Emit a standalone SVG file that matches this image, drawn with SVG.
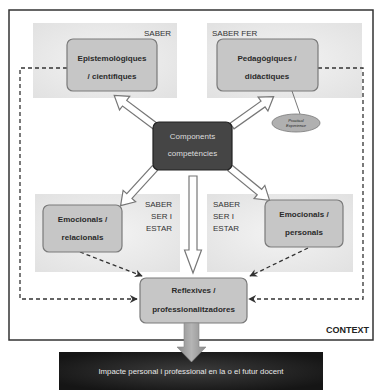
<svg xmlns="http://www.w3.org/2000/svg" width="377" height="390" viewBox="0 0 377 390">
<defs>
<style>
.panel{fill:url(#pg);}
.box{fill:#c6c6c6;stroke:#7a7a7a;stroke-width:1.2;}
.t{font-family:"Liberation Sans",Arial,sans-serif;font-size:8px;font-weight:bold;fill:#2a2a2a;text-anchor:middle;}
.lbl{font-family:"Liberation Sans",Arial,sans-serif;font-size:8px;fill:#333;}
.r{text-anchor:end;}
.blk{fill:#fff;stroke:#777;stroke-width:1.2;stroke-linejoin:miter;}
.dash{fill:none;stroke:#333;stroke-width:1.3;stroke-dasharray:4,3;}
</style>
<radialGradient id="pg" cx="0.5" cy="0.5" r="0.75">
<stop offset="0" stop-color="#f3f3f3"/><stop offset="1" stop-color="#e0e0e0"/>
</radialGradient>
<radialGradient id="dk" cx="0.5" cy="0.5" r="0.6">
<stop offset="0" stop-color="#3c3c3c"/><stop offset="1" stop-color="#151515"/>
</radialGradient>
<linearGradient id="ga" x1="0" y1="0" x2="1" y2="0">
<stop offset="0" stop-color="#8a8a8a"/><stop offset="0.5" stop-color="#b5b5b5"/><stop offset="1" stop-color="#8a8a8a"/>
</linearGradient>
<marker id="ah" viewBox="0 0 10 10" refX="9" refY="5" markerWidth="6" markerHeight="6" orient="auto"><path d="M0,0 L10,5 L0,10 L3,5 Z" fill="#333"/></marker>
<path id="barr" d="M0,-3.5 L38,-3.5 L38,-8.5 L51,0 L38,8.5 L38,3.5 L0,3.5 Z"/>
</defs>
<rect width="377" height="390" fill="#fff"/>
<rect x="9" y="10" width="364" height="330" fill="#fff" stroke="#333" stroke-width="1.5"/>

<g id="panels">
<rect class="panel" x="33" y="23" width="144" height="75"/>
<rect class="panel" x="207" y="23" width="155" height="75"/>
<rect class="panel" x="35" y="194" width="145" height="78"/>
<rect class="panel" x="207" y="194" width="146" height="78"/>
</g>

<g id="connectors">
<path class="dash" d="M67,68 H20 V299 H137" marker-end="url(#ah)"/>
<path class="dash" d="M318,68 H363 V299 H249" marker-end="url(#ah)"/>
<path class="dash" d="M80,252 L142,276" marker-end="url(#ah)"/>
<path class="dash" d="M308,248 L250,276" marker-end="url(#ah)"/>
<line x1="292" y1="91" x2="300" y2="114" stroke="#555" stroke-width="0.8"/>
<use href="#barr" class="blk" transform="translate(155,126) rotate(216.9)"/>
<use href="#barr" class="blk" transform="translate(232,126) rotate(-35.3)"/>
<use href="#barr" class="blk" transform="translate(155,168) rotate(132.4)"/>
<use href="#barr" class="blk" transform="translate(230,168) rotate(39.2)"/>
<path class="blk" d="M189,176 H197 V250 H201.5 L193,273 L184.5,250 H189 Z"/>
</g>

<g id="labels">
<text class="lbl" x="144" y="36">SABER</text>
<text class="lbl" x="212" y="36">SABER FER</text>
<text class="lbl r" x="172" y="207">SABER</text>
<text class="lbl r" x="172" y="219">SER I</text>
<text class="lbl r" x="172" y="231">ESTAR</text>
<text class="lbl" x="213" y="207">SABER</text>
<text class="lbl" x="213" y="219">SER I</text>
<text class="lbl" x="213" y="231">ESTAR</text>
<text x="369" y="333" font-family="Liberation Sans,Arial,sans-serif" font-size="9" font-weight="bold" fill="#222" text-anchor="end">CONTEXT</text>
</g>

<g id="epistemologiques">
<rect class="box" x="67" y="39" width="90" height="52" rx="6"/>
<text class="t" x="112" y="61">Epistemològiques</text>
<text class="t" x="112" y="79">/ científiques</text>
</g>
<g id="pedagogiques">
<rect class="box" x="217" y="39" width="101" height="52" rx="6"/>
<text class="t" x="267" y="61">Pedagògiques /</text>
<text class="t" x="267" y="79">didàctiques</text>
</g>
<g id="practical">
<ellipse cx="296" cy="123" rx="24" ry="9" fill="#b0b0b0" stroke="#777" stroke-width="0.8"/>
<text x="296" y="121.5" font-family="Liberation Sans,Arial,sans-serif" font-size="4" font-style="italic" fill="#222" text-anchor="middle">Practical</text>
<text x="296" y="127" font-family="Liberation Sans,Arial,sans-serif" font-size="4" font-style="italic" fill="#222" text-anchor="middle">Experience</text>
</g>
<g id="components">
<rect x="153" y="122" width="79" height="48" rx="6" fill="#454545" stroke="#222" stroke-width="1.2"/>
<text x="192.5" y="139" font-family="Liberation Sans,Arial,sans-serif" font-size="8" fill="#ddd" text-anchor="middle">Components</text>
<text x="192.5" y="156" font-family="Liberation Sans,Arial,sans-serif" font-size="8" fill="#ddd" text-anchor="middle">competències</text>
</g>
<g id="emocionals-relacionals">
<rect class="box" x="43" y="205" width="79" height="47" rx="6"/>
<text class="t" x="82.5" y="222">Emocionals /</text>
<text class="t" x="82.5" y="240">relacionals</text>
</g>
<g id="emocionals-personals">
<rect class="box" x="265" y="200" width="78" height="47" rx="6"/>
<text class="t" x="304" y="217">Emocionals /</text>
<text class="t" x="304" y="235">personals</text>
</g>
<g id="reflexives">
<rect class="box" x="140" y="278" width="107" height="45" rx="6"/>
<text class="t" x="193.5" y="293">Reflexives /</text>
<text class="t" x="193.5" y="312">professionalitzadores</text>
</g>
<g id="impacte">
<rect x="59" y="352" width="264" height="38" fill="url(#dk)"/>
<text x="191" y="374" font-family="Liberation Sans,Arial,sans-serif" font-size="7.8" fill="#e8e8e8" text-anchor="middle">Impacte personal i professional en la o el futur docent</text>
</g>
<g id="out-arrow">
<path d="M184,323 H199 V347 H206 L191.5,362 L177,347 H184 Z" fill="url(#ga)" stroke="#888" stroke-width="0.6"/>
</g>
</svg>
